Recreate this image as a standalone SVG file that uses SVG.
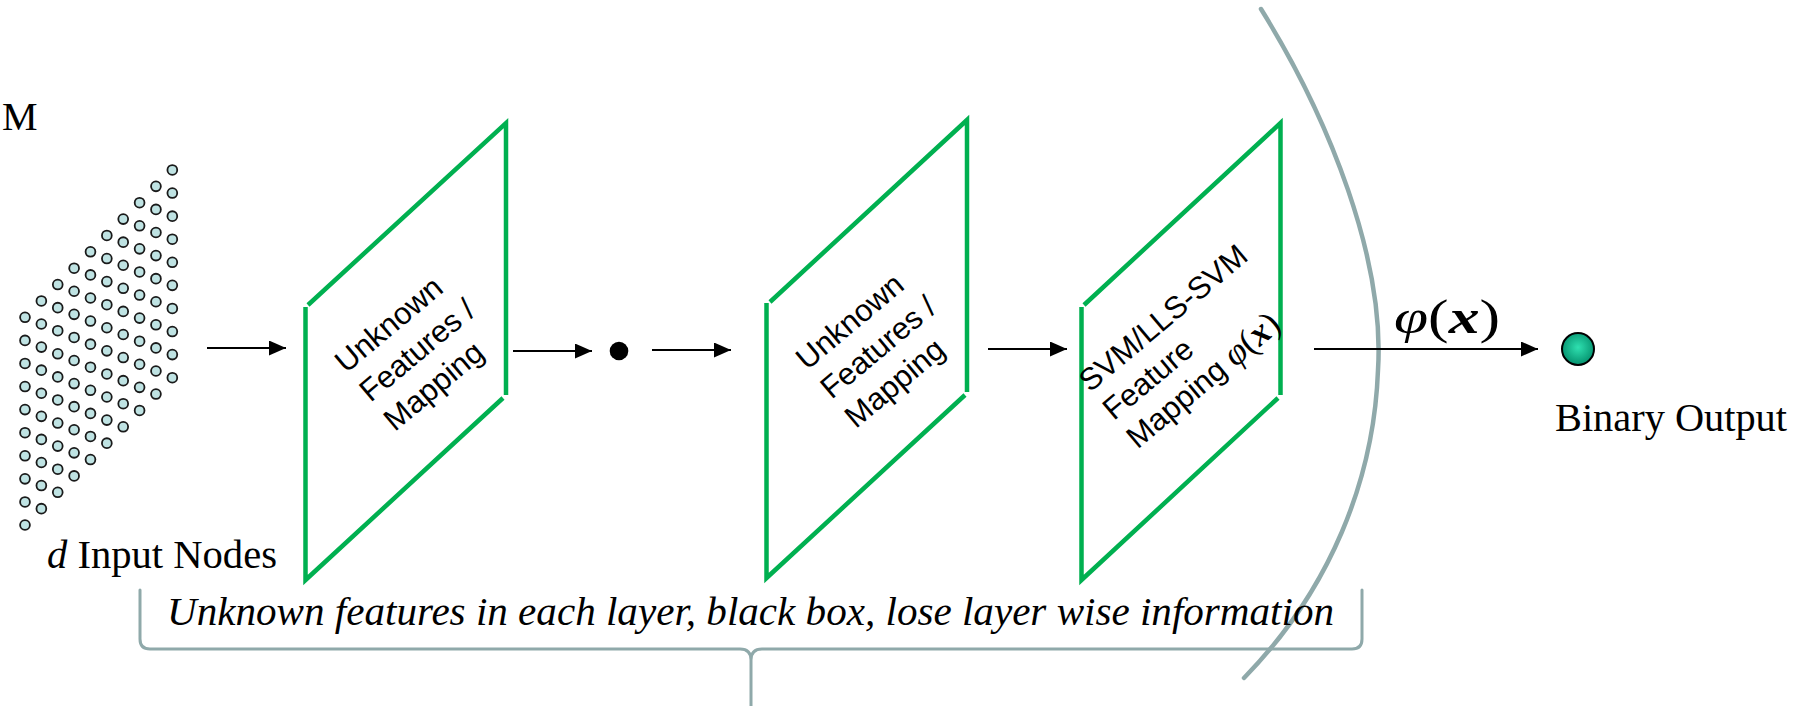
<svg xmlns="http://www.w3.org/2000/svg" width="1807" height="706" viewBox="0 0 1807 706">
<style>
.serif{font-family:"Liberation Serif","Times New Roman",serif;fill:#000}
.sans{font-family:"Liberation Sans",Arial,sans-serif;font-size:31px;fill:#000}
.math{font-family:"Liberation Serif","Times New Roman",serif;font-size:36px}
.plane{fill:none;stroke:#00b050;stroke-width:4.5;stroke-linejoin:miter}
.conn{stroke:#000;stroke-width:2;fill:none}
.gray{fill:none;stroke:#8fa9aa;stroke-linecap:round}
.dot{fill:#bfe3e3;stroke:#1a1a1a;stroke-width:1.8}
</style>
<defs>
<marker id="ah" markerWidth="17" markerHeight="15" refX="17" refY="7.5" orient="auto" markerUnits="userSpaceOnUse">
<path d="M0,0 L17,7.5 L0,15 Z" fill="#000"/>
</marker>
<radialGradient id="og" cx="0.5" cy="0.45" r="0.6">
<stop offset="0" stop-color="#2fe0b0"/>
<stop offset="1" stop-color="#008a68"/>
</radialGradient>
<g id="col">
<circle class="dot" cx="0" cy="0" r="4.9"/>
<circle class="dot" cx="0" cy="23.08" r="4.9"/>
<circle class="dot" cx="0" cy="46.16" r="4.9"/>
<circle class="dot" cx="0" cy="69.24" r="4.9"/>
<circle class="dot" cx="0" cy="92.32" r="4.9"/>
<circle class="dot" cx="0" cy="115.4" r="4.9"/>
<circle class="dot" cx="0" cy="138.48" r="4.9"/>
<circle class="dot" cx="0" cy="161.56" r="4.9"/>
<circle class="dot" cx="0" cy="184.64" r="4.9"/>
<circle class="dot" cx="0" cy="207.72" r="4.9"/>
</g>
</defs>
<rect width="1807" height="706" fill="#fff"/>

<text class="serif" x="2" y="130" font-size="40">M</text>

<g id="input-nodes">
<use href="#col" x="25" y="317.3"/>
<use href="#col" x="41.37" y="300.93"/>
<use href="#col" x="57.74" y="284.56"/>
<use href="#col" x="74.11" y="268.19"/>
<use href="#col" x="90.48" y="251.82"/>
<use href="#col" x="106.85" y="235.45"/>
<use href="#col" x="123.22" y="219.08"/>
<use href="#col" x="139.59" y="202.71"/>
<use href="#col" x="155.96" y="186.34"/>
<use href="#col" x="172.33" y="169.97"/>
<text class="serif" x="47" y="568" font-size="40" textLength="230" lengthAdjust="spacingAndGlyphs"><tspan font-style="italic">d</tspan> Input Nodes</text>
</g>

<g id="layer1">
<polyline class="plane" points="308,305 506,123 506,395"/>
<polyline class="plane" points="503,398 305.5,580 305.5,307"/>
<g transform="translate(346,374) rotate(-40)">
<text class="sans" x="0" y="0">Unknown</text>
<text class="sans" x="0" y="38">Features /</text>
<text class="sans" x="0" y="76">Mapping</text>
</g>
</g>

<g id="mid-dot">
<circle cx="619" cy="351" r="9.3" fill="#000"/>
</g>

<g id="layer2">
<polyline class="plane" points="770,302 967,120 967,392"/>
<polyline class="plane" points="965,395 766.5,578 766.5,303"/>
<g transform="translate(807,371) rotate(-40)">
<text class="sans" x="0" y="0">Unknown</text>
<text class="sans" x="0" y="38">Features /</text>
<text class="sans" x="0" y="76">Mapping</text>
</g>
</g>

<g id="layer3">
<polyline class="plane" points="1084,305 1280.5,123 1280.5,395"/>
<polyline class="plane" points="1278,398 1081.5,580 1081.5,307"/>
<g transform="translate(1090,393) rotate(-40)">
<text class="sans" x="0" y="0">SVM/LLS-SVM</text>
<text class="sans" x="0" y="37">Feature</text>
<text class="sans" x="0" y="74">Mapping <tspan class="math" font-style="italic">φ</tspan><tspan class="math">(</tspan><tspan class="math" font-style="italic" font-weight="bold">x</tspan><tspan class="math">)</tspan></text>
</g>
</g>

<g id="boundary">
<path class="gray" stroke-width="4.5" d="M1261,9 C1330,120 1385,260 1378,370 C1374,480 1330,590 1244,678"/>
</g>

<g id="output">
<circle cx="1578" cy="349" r="16" fill="url(#og)" stroke="#000" stroke-width="2"/>
<text class="serif" x="1555" y="431" font-size="40" textLength="232" lengthAdjust="spacingAndGlyphs">Binary Output</text>
</g>

<g id="connectors">
<line class="conn" x1="207" y1="348" x2="286" y2="348" marker-end="url(#ah)"/>
<line class="conn" x1="513" y1="351" x2="592" y2="351" marker-end="url(#ah)"/>
<line class="conn" x1="652" y1="350" x2="731" y2="350" marker-end="url(#ah)"/>
<line class="conn" x1="988" y1="349" x2="1067" y2="349" marker-end="url(#ah)"/>
<line class="conn" x1="1314" y1="349" x2="1538" y2="349" marker-end="url(#ah)"/>
<text class="serif" x="1394" y="333" font-size="48" textLength="106" lengthAdjust="spacingAndGlyphs"><tspan font-style="italic">φ</tspan>(<tspan font-style="italic" font-weight="bold">x</tspan>)</text>
</g>

<g id="brace">
<path class="gray" stroke-width="3" d="M140,590 L140,639 Q140,649 150,649 L740,649 Q751,649 751,660 L751,706 M751,660 Q751,649 762,649 L1352,649 Q1362,649 1362,639 L1362,590"/>
<text class="serif" x="167" y="625" font-size="40" font-style="italic" textLength="1167" lengthAdjust="spacingAndGlyphs">Unknown features in each layer, black box, lose layer wise information</text>
</g>
</svg>
